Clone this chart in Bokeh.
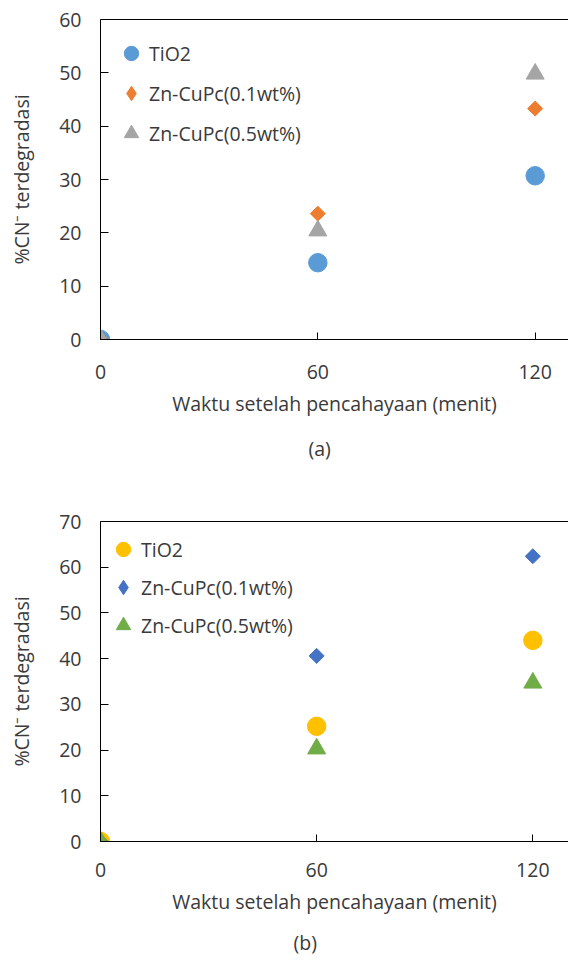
import math
from bokeh.plotting import figure
from bokeh.models import Range1d, LinearAxis, FixedTicker, Title, Legend, LegendItem
from bokeh.layouts import column
from bokeh.embed import file_html
from bokeh.resources import INLINE

# ---------------- data ----------------
time_min = [0, 60, 120]
series_labels = ["TiO2", "Zn-CuPc(0.1wt%)", "Zn-CuPc(0.5wt%)"]

a_tio2 = [0, 14.4, 30.7]
a_zn01 = [0, 23.6, 43.3]
a_zn05 = [0, 20.4, 49.8]

b_tio2 = [0, 25.2, 44.0]
b_zn01 = [0, 40.6, 62.4]
b_zn05 = [0, 20.3, 34.7]

x_ticks = [0, 60, 120]
a_y_ticks = [0, 10, 20, 30, 40, 50, 60]
b_y_ticks = [0, 10, 20, 30, 40, 50, 60, 70]

x_title = "Waktu setelah pencahayaan (menit)"
y_title = "%CN\u207b terdegradasi"

a_colors = ["#5B9BD5", "#ED7D31", "#A5A5A5"]
b_colors = ["#FFC000", "#4472C4", "#70AD47"]

FONT = "Open Sans"
FS = "19.5px"
TXT = "#3a3a3a"


def make_fig(series, colors, y_ticks, tag, height, x_end, b_left, b_top, b_bottom,
             leg_loc, glyph_h, tick_standoff, title_standoff, title_offset):
    p = figure(width=568, height=height,
               x_range=Range1d(0, x_end), y_range=Range1d(0, y_ticks[-1]),
               output_backend="svg", toolbar_location=None,
               min_border_left=b_left, min_border_right=0,
               min_border_top=b_top, min_border_bottom=b_bottom)
    p.grid.visible = False
    p.outline_line_color = None
    p.background_fill_color = "white"
    p.border_fill_color = "white"

    # x axis
    xa = p.xaxis[0]
    xa.ticker = FixedTicker(ticks=x_ticks)
    xa.major_tick_in = 7
    xa.major_tick_out = 0
    xa.minor_tick_in = 0
    xa.minor_tick_out = 0
    xa.axis_line_color = "#000000"
    xa.major_tick_line_color = "#000000"
    xa.major_label_standoff = tick_standoff
    xa.major_label_text_font = FONT
    xa.major_label_text_font_size = FS
    xa.major_label_text_color = TXT
    xa.axis_label = x_title
    xa.axis_label_standoff = 8
    xa.axis_label_text_font = FONT
    xa.axis_label_text_font_size = FS
    xa.axis_label_text_font_style = "normal"
    xa.axis_label_text_color = TXT

    # y axis
    ya = p.yaxis[0]
    ya.ticker = FixedTicker(ticks=y_ticks)
    ya.major_tick_in = 8
    ya.major_tick_out = 0
    ya.minor_tick_in = 0
    ya.minor_tick_out = 0
    ya.axis_line_color = "#000000"
    ya.major_tick_line_color = "#000000"
    ya.major_label_standoff = 19
    ya.major_label_text_font = FONT
    ya.major_label_text_font_size = FS
    ya.major_label_text_color = TXT
    ya.axis_label = y_title
    ya.axis_label_standoff = 21
    ya.axis_label_text_font = FONT
    ya.axis_label_text_font_size = FS
    ya.axis_label_text_font_style = "normal"
    ya.axis_label_text_color = TXT

    # top border line
    top = LinearAxis(ticker=FixedTicker(ticks=[]), major_tick_out=0, major_tick_in=0,
                     major_label_standoff=0, axis_line_color="#000000",
                     major_label_text_font_size="0px")
    p.add_layout(top, "above")

    s1, s2, s3 = series
    c1, c2, c3 = colors
    r1 = p.scatter(time_min, s1, marker="circle", size=18.5, fill_color=c1, line_color=c1)
    r2 = p.scatter(time_min, s2, marker="square", size=10.6, angle=math.pi / 4,
                   fill_color=c2, line_color=c2)
    r2_leg = p.scatter(time_min, s2, marker="diamond", size=16, fill_color=c2,
                       line_color=c2, visible=False)
    r3 = p.scatter(time_min, s3, marker="triangle", size=18, fill_color=c3, line_color=c3)

    legend = Legend(items=[LegendItem(label=series_labels[0], renderers=[r1]),
                           LegendItem(label=series_labels[1], renderers=[r2_leg]),
                           LegendItem(label=series_labels[2], renderers=[r3])],
                    location=leg_loc, margin=0, padding=0,
                    spacing=0, glyph_width=36, glyph_height=glyph_h,
                    label_height=glyph_h, label_standoff=0, label_text_font=FONT,
                    label_text_font_size=FS, label_text_color=TXT,
                    border_line_color=None, background_fill_alpha=0,
                    inactive_fill_alpha=0)
    p.add_layout(legend)

    t = Title(text=tag, align="left", offset=title_offset, text_font=FONT,
              text_font_size=FS, text_font_style="normal", text_color=TXT,
              text_line_height=1.0, standoff=title_standoff)
    p.add_layout(t, "below")
    return p


p1 = make_fig([a_tio2, a_zn01, a_zn05], a_colors, a_y_ticks, "(a)",
              height=475, x_end=129.2, b_left=100, b_top=19, b_bottom=136,
              leg_loc=(13, 186), glyph_h=40, tick_standoff=25,
              title_standoff=26, title_offset=208)
p2 = make_fig([b_tio2, b_zn01, b_zn05], b_colors, b_y_ticks, "(b)",
              height=490, x_end=129.9, b_left=98, b_top=46, b_bottom=124,
              leg_loc=(5, 197), glyph_h=38, tick_standoff=21,
              title_standoff=19, title_offset=193)

layout = column(p1, p2, spacing=0)
open("out.html", "w").write(file_html(layout, INLINE))
